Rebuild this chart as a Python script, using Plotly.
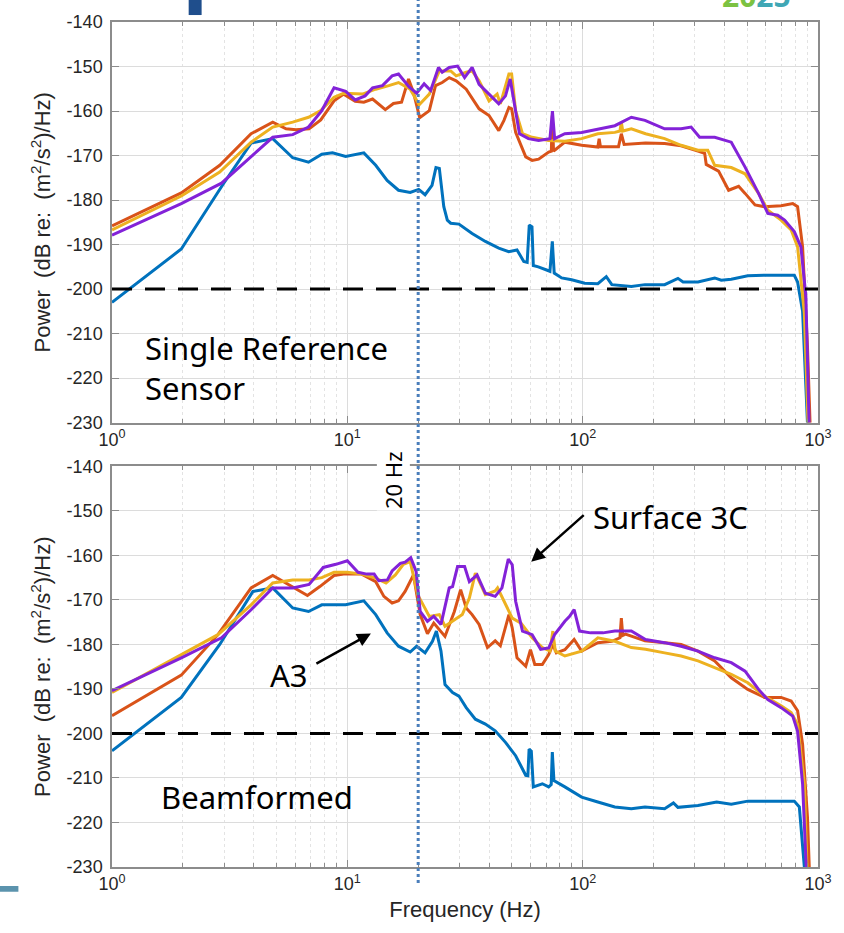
import plotly.graph_objects as go

# ---------------- data (frequency Hz, power dB) ----------------
top_blue = [(1, -203), (1.97, -191), (2.96, -176.5), (3.9, -167.2), (4.82, -166.2), (5.86, -170.5),
            (6.84, -171.5), (7.79, -169.7), (8.65, -169.4), (9.84, -170.2), (11.75, -169.4), (13.2, -172.2),
            (14.76, -175.6), (16.5, -177.8), (18.5, -178.3), (20.1, -177.6), (21.4, -178.8), (22.9, -176.7),
            (23.8, -172.7), (24.6, -172.9), (25.7, -181.5), (26.6, -184.5), (27.5, -185.2), (29.8, -185.4),
            (33.9, -187.5), (38.6, -189.3), (44, -190.8), (48.5, -191.6), (52.6, -191.2), (56.2, -193.8),
            (58.1, -194), (59.3, -185.6), (60.9, -186), (61.7, -194.7), (64.8, -195), (69.2, -195.6),
            (72.6, -196), (74.3, -189.3), (75.7, -196.4), (81.4, -197.5), (89.8, -197.9), (102, -198.7),
            (116, -198.8), (126, -197.2), (133, -199), (161, -199.4), (184, -199), (223, -199),
            (246, -197.9), (254, -197.6), (267, -198.4), (309, -198.4), (364, -197.5), (388, -198),
            (428, -197.8), (503, -197), (592, -196.9), (793, -196.9), (819, -198.4), (860, -205),
            (902, -230), (930, -245)]

top_orange = [(1, -185.8), (1.97, -178.4), (2.87, -172.2), (3.9, -165.1), (4.82, -162.5), (5.49, -164),
              (6.05, -164.2), (6.88, -164), (7.71, -162), (8.78, -157.7), (9.65, -156.2), (10.8, -157.8),
              (11.75, -158), (12.8, -157.3), (14.5, -159.7), (15.7, -158.3), (17.0, -158), (18.2, -152.8),
              (19.1, -155.8), (20.3, -161.5), (22.3, -159.9), (23.7, -154.3), (25.3, -153.6), (27.1, -152.5),
              (29, -153.2), (32, -155.1), (36.3, -159.5), (40, -161), (44, -164.4), (46.3, -162.1),
              (48.6, -159.2), (49.9, -159.5), (51.9, -164.8), (57.3, -170.3), (61, -171.1), (65, -170.8),
              (71.7, -169.2), (73.6, -169), (74.3, -161), (75.2, -169), (76, -168.8), (84, -167),
              (99, -167.7), (116, -168.1), (117.5, -166.2), (119, -168), (142, -168), (146, -165.1),
              (150, -167.5), (185, -167.2), (223, -167.3), (262, -167.8), (309, -169), (330, -169.5),
              (335, -172), (378, -173.5), (417, -177.8), (460, -176.9), (490, -178.5), (540, -181.1),
              (592, -181.5), (697, -181.3), (781, -180.8), (819, -181.5), (860, -190.5), (902, -212.8),
              (946, -245)]

top_yellow = [(1, -186.7), (1.97, -179.1), (2.87, -173.7), (3.9, -167), (4.82, -163.6), (5.86, -162.5),
              (6.84, -161.4), (7.71, -159.9), (8.78, -156.9), (9.65, -156), (11.6, -156.2), (13.2, -155.1),
              (15.0, -154.3), (16.5, -153.6), (18.5, -155.1), (20.2, -158.6), (22.3, -156.2), (24.6, -151),
              (27.5, -151), (29, -152.1), (32, -151.3), (33.9, -151), (36.3, -153.2), (40, -157.7),
              (43.3, -156.2), (44.7, -158.4), (48.6, -151.7), (49.9, -151.7), (51.9, -159.9), (55.5, -165.1),
              (61, -165.9), (71.7, -166.6), (84, -166.8), (99, -166.2), (116, -165.1), (137, -164.8),
              (144, -164.5), (146, -162.5), (148, -164.5), (161, -164), (185, -165.1), (223, -166.2),
              (262, -167.7), (309, -168.8), (340, -168.8), (364, -172.2), (428, -172.7), (490, -174.1),
              (559, -178.5), (612, -182.3), (697, -184.5), (769, -186.7), (819, -190.5), (875, -205.4),
              (927, -245)]

top_purple = [(1, -187.9), (1.97, -180.8), (2.92, -176.2), (3.9, -170.3), (4.82, -165.9), (5.86, -165.3),
              (6.84, -163.6), (7.79, -159.9), (8.78, -154.8), (9.84, -155.6), (10.8, -157.5), (11.9, -156.6),
              (12.8, -154.8), (14.1, -154.3), (15.5, -152.1), (16.5, -151.7), (18.3, -154.6), (19.7, -156),
              (21.2, -153.9), (22.6, -155.4), (24.4, -150.2), (25.3, -151.3), (27.1, -150.2), (29.4, -149.9),
              (31.5, -152.5), (33.9, -150.2), (36.3, -154), (40, -156.2), (44, -158.4), (47, -156.6),
              (49.2, -152.8), (51, -157.7), (53.9, -165.1), (58.8, -166.2), (65, -166.6), (72.6, -166.2),
              (74.4, -160), (76, -166.2), (84, -165.1), (99, -164.8), (116, -164), (137, -163.3),
              (161, -161.4), (184, -162.1), (223, -164), (262, -164), (289, -163.6), (314, -165.9),
              (364, -165.9), (428, -167), (490, -172.6), (559, -178.5), (612, -183), (674, -183.4),
              (721, -184.5), (793, -187.1), (846, -190.5), (888, -201.6), (932, -245)]

bot_blue = [(1, -203.9), (1.97, -191.9), (2.87, -180), (3.97, -168.1), (4.82, -167.3), (5.86, -171.8),
            (6.84, -172.6), (7.79, -171.1), (9.84, -171.1), (11.75, -170.2), (13.2, -173.3), (14.76, -177.4),
            (16.5, -180.4), (18.5, -181.7), (19.7, -180.4), (21.4, -181.9), (23, -179.3), (23.9, -177),
            (25, -181.5), (26, -189), (28, -190.8), (29.8, -191.6), (32, -194.2), (35, -196.8),
            (38.6, -197.9), (42.5, -199.4), (47, -202), (51.9, -205), (57.3, -209.4), (58.5, -209.5),
            (59.2, -203.5), (60.5, -204), (61.7, -212), (67.4, -211.3), (71.7, -212), (73.5, -211.5),
            (74.3, -204.2), (75.5, -210.6), (84, -212), (99, -214.3), (116, -215.4), (137, -216.5),
            (161, -216.9), (184, -216.5), (223, -216.9), (243, -215.6), (254, -216.6), (309, -216.2),
            (371, -215.4), (428, -215.9), (503, -215.2), (592, -215.2), (793, -215.2), (833, -216.5),
            (875, -230), (900, -245)]

bot_orange = [(1, -196), (1.97, -186.9), (2.82, -177.8), (3.9, -167.3), (4.82, -164.5), (5.86, -167),
              (6.77, -169), (7.64, -167), (8.78, -164.5), (9.65, -164.2), (11.5, -164.2), (13.2, -165.9),
              (14.3, -169.2), (15.5, -170.7), (16.5, -170.2), (17.6, -168.1), (19.1, -164.4), (20.4, -173.3),
              (21.9, -177.6), (23.3, -175.2), (26, -178.2), (28.5, -172.6), (30.3, -167.7), (32, -171.8),
              (33.9, -173.3), (36.3, -175.5), (39.4, -180.7), (42.5, -179.2), (44.7, -180.3), (48.6, -173.3),
              (50.2, -176.3), (52.6, -183), (57.3, -184.9), (60, -181.2), (62.6, -184.5), (67.4, -184.5),
              (71.7, -182.3), (74.7, -180), (77.3, -181.9), (84, -181.2), (92, -178.9), (99, -181.5),
              (116, -179.6), (133, -179.3), (144, -178.5), (146, -174.1), (148, -178), (152, -177.7),
              (184, -179.2), (223, -179.6), (262, -180), (309, -181.5), (364, -183.7), (428, -187.5),
              (503, -190.1), (592, -191.9), (697, -191.9), (769, -192.7), (819, -194.9), (860, -202.4),
              (902, -218.8), (940, -245)]

bot_yellow = [(1, -190.8), (1.97, -182.3), (2.82, -177.8), (3.9, -171.1), (4.82, -166.2), (5.86, -165.5),
              (6.88, -165.5), (7.79, -165), (8.78, -163.8), (10, -163.8), (11.5, -164.2), (13.2, -165.1),
              (14.6, -166.2), (16, -164.4), (17.3, -162), (18.5, -161.4), (19.9, -168.8), (22.3, -173.7),
              (24.6, -173.3), (26, -175.9), (29, -174.1), (30.8, -173.3), (33, -169.6), (35, -164),
              (38.6, -168.8), (42.5, -168), (43.5, -167.3), (47, -171.1), (50.2, -174.1), (54.7, -175.2),
              (61, -178.5), (67.4, -180.7), (72.6, -181.5), (74.7, -177), (76.5, -181.5), (84, -182.6),
              (99, -181.5), (116, -178.5), (137, -179.3), (161, -180.7), (185, -181.1), (223, -181.9),
              (262, -182.6), (309, -183.7), (364, -185.2), (428, -186.7), (503, -188.6), (592, -191.6),
              (697, -193.8), (769, -195.3), (819, -197.9), (875, -211.3), (917, -245)]

bot_purple = [(1, -190.4), (1.97, -183), (2.92, -178.5), (3.9, -172.2), (4.82, -167.3), (5.86, -167.3),
              (6.88, -166.5), (7.9, -162.7), (8.94, -162), (10, -161.2), (11.1, -163.8), (12.1, -164.2),
              (13, -164.2), (13.6, -165.7), (14.8, -165.5), (15.5, -163.5), (16.8, -161.8), (17.6, -161.5),
              (18.6, -160.5), (19.6, -163.6), (20.4, -172.6), (21.9, -174.8), (23.3, -173.7), (25, -175.5),
              (27.1, -167.3), (28, -167), (29.4, -162.5), (31.5, -162.5), (33, -165.9), (35.6, -164.4),
              (38.6, -168.5), (42.5, -169.2), (45.4, -167.3), (48.3, -160.8), (50.2, -162.1), (51.9, -170.3),
              (55.5, -177), (61, -177.8), (66.3, -181.1), (71.7, -180.8), (76, -177.8), (84, -174.8),
              (88, -173.7), (92, -172.2), (97, -177), (108, -177.4), (122, -177.4), (137, -177),
              (161, -177), (185, -178.9), (223, -179.6), (262, -180.4), (309, -181.5), (364, -183),
              (428, -184.1), (490, -186), (559, -190.1), (612, -192.4), (697, -194.2), (781, -196.1),
              (819, -199.5), (860, -211.3), (917, -245)]

x_major = [1, 10, 100, 1000]
x_major_text = ["10<sup>0</sup>", "10<sup>1</sup>", "10<sup>2</sup>", "10<sup>3</sup>"]
x_minor = [m * d for d in (1, 10, 100) for m in range(2, 10)]
y_ticks = list(range(-140, -231, -10))
y_tick_text = [str(v) for v in y_ticks]
noise_floor = -200
mark_freq = 20

colors = {"blue": "#0072BD", "orange": "#D95319", "yellow": "#EDB120", "purple": "#8322D8"}

fig = go.Figure()


def add_series(series, color, xa, ya):
    fig.add_trace(go.Scatter(x=[p[0] for p in series], y=[p[1] for p in series], mode="lines",
                             line=dict(color=color, width=3), xaxis=xa, yaxis=ya, showlegend=False,
                             hoverinfo="skip"))


for s, c in ((top_blue, "blue"), (top_orange, "orange"), (top_yellow, "yellow"), (top_purple, "purple")):
    add_series(s, colors[c], "x", "y")
for s, c in ((bot_blue, "blue"), (bot_orange, "orange"), (bot_yellow, "yellow"), (bot_purple, "purple")):
    add_series(s, colors[c], "x2", "y2")

tickfont = dict(family="Liberation Sans, Arial, sans-serif", size=18, color="#262626")
axis_line = "#8c8c8c"

xcommon = dict(type="log", range=[0, 3], tickmode="array", tickvals=x_major, ticktext=x_major_text,
               ticks="inside", ticklen=7, tickcolor=axis_line, showline=True, linecolor=axis_line,
               linewidth=1.5, mirror="ticks", showgrid=True, gridcolor="#dcdcdc", gridwidth=1,
               zeroline=False, tickfont=tickfont,
               minor=dict(tickvals=x_minor, ticks="inside", ticklen=4, tickcolor=axis_line,
                          showgrid=True, gridcolor="#e3e3e3", griddash="dot", gridwidth=1))
ycommon = dict(range=[-230, -140], tickmode="array", tickvals=y_ticks, ticktext=y_tick_text,
               ticks="inside", ticklen=7, tickcolor=axis_line, showline=True, linecolor=axis_line,
               linewidth=1.5, mirror="ticks", showgrid=True, gridcolor="#dcdcdc", zeroline=False,
               tickfont=tickfont, ticklabelstandoff=4,
               title=dict(text="Power  (dB re:  (m<sup>2</sup>/s<sup>2</sup>)/Hz)",
                          font=dict(family="Liberation Sans, Arial, sans-serif", size=22, color="#262626"),
                          standoff=10))

fig.update_layout(
    width=844, height=933, margin=dict(l=112, r=23, t=17, b=66),
    paper_bgcolor="white", plot_bgcolor="white",
    xaxis=dict(xcommon, domain=[0, 1], anchor="y"),
    yaxis=dict(ycommon, domain=[0.5259, 1], anchor="x"),
    xaxis2=dict(xcommon, domain=[0, 1], anchor="y2",
                title=dict(text="Frequency (Hz)",
                           font=dict(family="Liberation Sans, Arial, sans-serif", size=22, color="#262626"),
                           standoff=8)),
    yaxis2=dict(ycommon, domain=[0, 0.4741], anchor="x2"),
)

# noise floor dashed lines
for xa, ya in (("x", "y"), ("x2", "y2")):
    fig.add_shape(type="line", xref=f"{xa} domain", x0=0, x1=1, yref=ya, y0=noise_floor, y1=noise_floor,
                  line=dict(color="black", width=3, dash="20px,13px"), layer="above")

# 20 Hz dotted marker spanning both panels
fig.add_shape(type="line", xref="x2", x0=mark_freq, x1=mark_freq, yref="paper", y0=-0.0188, y1=1.03,
              line=dict(color="#4a7ebb", width=3, dash="dot"), layer="above")

label_font = dict(family="Noto Sans, Open Sans, sans-serif", size=31, color="black")
fig.add_annotation(text="20 Hz", textangle=-90, xref="paper", yref="paper", x=0.399, y=0.4576,
                   showarrow=False, bgcolor="white", font=dict(family="Noto Sans, sans-serif", size=22,
                                                                 color="black"))
fig.add_annotation(text="Single Reference<br>Sensor", xref="paper", yref="paper", x=0.0437, y=0.5906,
                   xanchor="left", yanchor="middle", align="left", showarrow=False, font=label_font)
fig.add_annotation(text="Beamformed", xref="paper", yref="paper", x=0.0663, y=0.0824,
                   xanchor="left", yanchor="middle", showarrow=False, font=label_font)
fig.add_annotation(text="A3", xref="paper", yref="paper", x=0.251, y=0.227,
                   xanchor="center", yanchor="middle", showarrow=False, font=label_font)
fig.add_annotation(text="Surface 3C", xref="paper", yref="paper", x=0.6784, y=0.4141,
                   xanchor="left", yanchor="middle", showarrow=False, font=label_font)
# arrows
fig.add_annotation(text="", xref="paper", yref="paper", x=(372 - 112) / 709, y=(867 - 632) / 850,
                   ax=-56, ay=31, showarrow=True, arrowhead=2, arrowsize=1.1, arrowwidth=2.5,
                   arrowcolor="black")
fig.add_annotation(text="", xref="paper", yref="paper", x=(533 - 112) / 709, y=(867 - 560) / 850,
                   ax=54, ay=-48, showarrow=True, arrowhead=2, arrowsize=1.1, arrowwidth=2.5,
                   arrowcolor="black")

# slide decorations (cut off at the top edge, as in the source slide)
fig.add_shape(type="rect", xref="paper", yref="paper", x0=(189 - 112) / 709, x1=(202 - 112) / 709,
              y0=(867 - 10) / 850, y1=1.05, fillcolor="#1f4e8c", line=dict(width=0))
fig.add_shape(type="rect", xref="paper", yref="paper", x0=-0.2, x1=(18 - 112) / 709,
              y0=(867 - 892) / 850, y1=(867 - 886) / 850, fillcolor="#5b93ad", line=dict(width=0))
fig.add_annotation(text="<b><span style='color:#7cc242'>20</span><span style='color:#3fa7b5'>25</span></b>",
                   xref="paper", yref="paper", x=(759 - 112) / 709, y=(867 - 13) / 850, xanchor="center",
                   yanchor="bottom", showarrow=False, font=dict(family="Noto Sans", size=30))

fig.write_html("out.html")
